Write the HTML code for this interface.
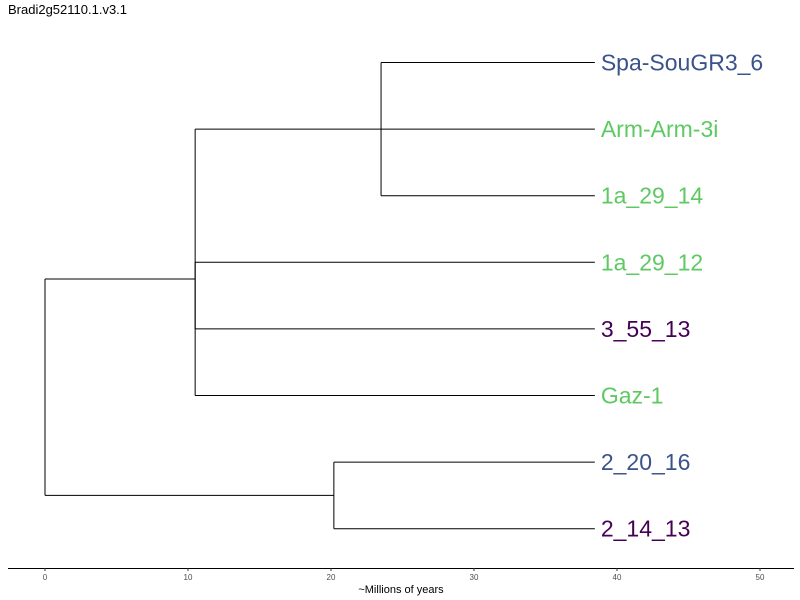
<!DOCTYPE html>
<html><head><meta charset="utf-8"><style>
body{margin:0;background:#fff;font-family:"Liberation Sans",sans-serif;}
svg{display:block}
</style></head><body>
<svg id="chart" width="800" height="600">
<text x="8" y="14" font-size="13" fill="#000">Bradi2g52110.1.v3.1</text>
<g id="axis"></g>
<g id="tree"></g>
<g id="labels"></g>
<text x="401" y="593" font-size="11" text-anchor="middle" fill="#000">~Millions of years</text>
</svg>
<script>
const tipNames=["Spa-SouGR3_6","Arm-Arm-3i","1a_29_14","1a_29_12","3_55_13","Gaz-1","2_20_16","2_14_13"];
const tipColors=["#3b528b","#5ec962","#5ec962","#5ec962","#440154","#5ec962","#3b528b","#440154"];
const tipRows=[1,2,3,4,5,6,7,8];
const tipDepth=38.45;
// horizontal branches: [fromX, toX, row]
const hSegs=[[23.5,38.45,1],[10.5,38.45,2],[23.5,38.45,3],[10.5,38.45,4],[10.5,38.45,5],[10.5,38.45,6],[20.2,38.45,7],[20.2,38.45,8],[0,10.5,4.25],[0,20.2,7.5]];
// vertical branches: [x, rowTop, rowBottom]
const vSegs=[[23.5,1,3],[10.5,2,6],[10.5,4,5],[0,4.25,7.5],[20.2,7,8]];
const ticks=[0,10,20,30,40,50];
const NS="http://www.w3.org/2000/svg";
const xs=v=>45+v*14.3;
const ys=r=>62.5+(r-1)*66.6;
function mk(t,a,p){const e=document.createElementNS(NS,t);for(const k in a)e.setAttribute(k,a[k]);p.appendChild(e);return e;}
const tree=document.getElementById('tree');
hSegs.forEach(s=>{const l=mk('line',{x1:xs(s[0]),x2:xs(s[1]),y1:ys(s[2]),y2:ys(s[2]),stroke:'#000','stroke-width':1},tree);

});
vSegs.forEach(s=>{const l=mk('line',{x1:xs(s[0]),x2:xs(s[0]),y1:ys(s[1]),y2:ys(s[2]),stroke:'#000','stroke-width':1},tree);

});
const lab=document.getElementById('labels');
tipNames.forEach((n,i)=>{const t=mk('text',{x:xs(tipDepth)+6,y:ys(tipRows[i])+8,'font-size':23,fill:tipColors[i]},lab);t.textContent=n;

});
const ax=document.getElementById('axis');
mk('line',{x1:8,x2:794,y1:568.5,y2:568.5,stroke:'#000','stroke-width':1},ax);
ticks.forEach(v=>{mk('line',{x1:xs(v),x2:xs(v),y1:568,y2:571,stroke:'#333'},ax);
const t=mk('text',{x:xs(v),y:580,'font-size':8,'text-anchor':'middle',fill:'#4d4d4d'},ax);t.textContent=v;

});
</script>
</body></html>
